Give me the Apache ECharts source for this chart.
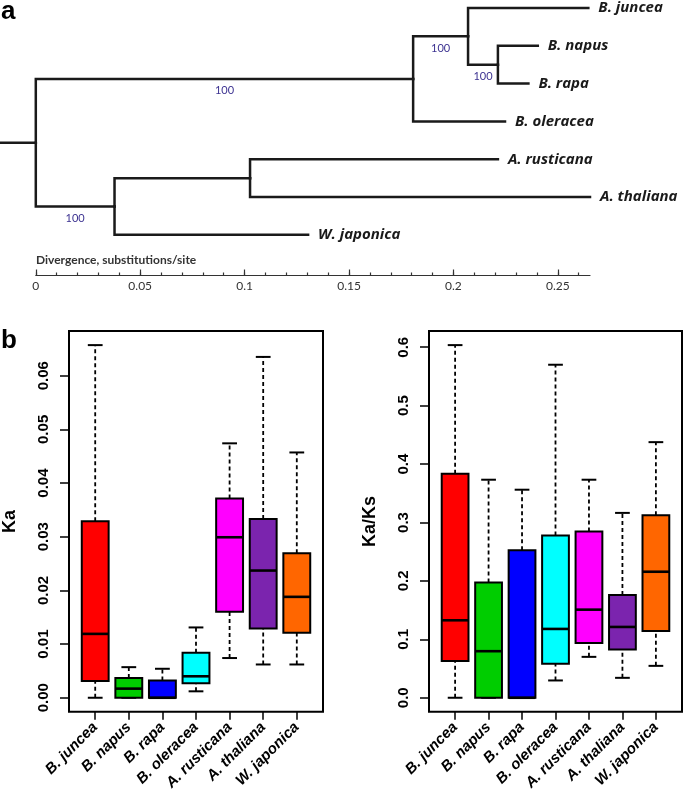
<!DOCTYPE html>
<html><head><meta charset="utf-8">
<script src="https://cdn.jsdelivr.net/npm/echarts@6/dist/echarts.min.js"></script>
<style>html,body{margin:0;padding:0;background:#fff}#c{width:685px;height:793px}</style>
</head><body><div id="c"></div>
<script>
// ---------- data ----------
const species = ['B. juncea','B. napus','B. rapa','B. oleracea','A. rusticana','A. thaliana','W. japonica'];
const boxColors = ['#ff0000','#00cd00','#0000ff','#00ffff','#ff00ff','#7b24ae','#ff6600'];

// phylogeny (divergence, substitutions/site)
const leafDivergence = [0.2646, 0.2404, 0.2359, 0.2247, 0.2213, 0.2654, 0.1304];
const cladeMembers = [[0,1,2,3,4,5,6],[0,1,2,3],[0,1,2],[1,2],[4,5,6],[4,5]];
const cladeDivergence = [0, 0.1807, 0.2070, 0.2213, 0.0377, 0.1026];
const cladeSupport = [null, 100, 100, 100, 100, null];
const rootStubStart = -0.0171;
const divergenceTicks = [0, 0.05, 0.1, 0.15, 0.2, 0.25];
const divergenceMinorTicks = [0,0.01,0.02,0.03,0.04,0.05,0.06,0.07,0.08,0.09,0.1,0.11,0.12,0.13,0.14,0.15,0.16,0.17,0.18,0.19,0.2,0.21,0.22,0.23,0.24,0.25,0.26];
const divergenceAxisEnd = 0.2654;

// Ka box statistics
const kaWhiskerLow  = [0.0000,0.0000,0.0000,0.0012,0.0074,0.0062,0.0062];
const kaQ1          = [0.0031,0.0000,0.0000,0.0027,0.0160,0.0129,0.0121];
const kaMedian      = [0.0119,0.0017,0.0000,0.0040,0.0299,0.0237,0.0188];
const kaQ3          = [0.0329,0.0037,0.0032,0.0084,0.0371,0.0333,0.0269];
const kaWhiskerHigh = [0.0657,0.0057,0.0054,0.0131,0.0474,0.0635,0.0457];
const kaTicks = [0, 0.01, 0.02, 0.03, 0.04, 0.05, 0.06];

// Ka/Ks box statistics
const kaksWhiskerLow  = [0.0000,0.0000,0.0000,0.0296,0.0700,0.0341,0.0546];
const kaksQ1          = [0.0631,0.0000,0.0000,0.0580,0.0939,0.0826,0.1143];
const kaksMedian      = [0.1326,0.0797,0.0000,0.1178,0.1508,0.1212,0.2157];
const kaksQ3          = [0.3834,0.1974,0.2526,0.2776,0.2845,0.1758,0.3123];
const kaksWhiskerHigh = [0.6036,0.3732,0.3561,0.5700,0.3732,0.3164,0.4375];
const kaksTicks = [0, 0.1, 0.2, 0.3, 0.4, 0.5, 0.6];

// ---------- tree layout (rectangular dendrogram) ----------
function smallestContaining(members, selfIdx) {
  let best = -1;
  cladeMembers.forEach((m, j) => {
    if (j === selfIdx || m.length <= members.length) return;
    if (members.every(x => m.includes(x))) {
      if (best < 0 || m.length < cladeMembers[best].length) best = j;
    }
  });
  return best;
}
const leafParent = species.map((_, i) => smallestContaining([i], -1));
const cladeParent = cladeMembers.map((m, i) => smallestContaining(m, i));
const cladeY = cladeMembers.map(() => null);
const order = cladeMembers.map((_, i) => i).sort((a, b) => cladeMembers[a].length - cladeMembers[b].length);
order.forEach(c => {
  const ys = [];
  leafParent.forEach((p, i) => { if (p === c) ys.push(i); });
  cladeParent.forEach((p, j) => { if (p === c) ys.push(cladeY[j]); });
  cladeY[c] = ys.reduce((a, b) => a + b, 0) / ys.length;
});
const rootIdx = cladeParent.indexOf(-1);
const treeEdges = [];
treeEdges.push([rootStubStart, cladeY[rootIdx], cladeDivergence[rootIdx], cladeY[rootIdx]]);
cladeMembers.forEach((m, c) => {
  const p = cladeParent[c];
  if (p >= 0) treeEdges.push([cladeDivergence[p], cladeY[p], cladeDivergence[c], cladeY[c]]);
});
leafDivergence.forEach((d, i) => {
  const p = leafParent[i];
  treeEdges.push([cladeDivergence[p], cladeY[p], d, i]);
});
const supportData = [];
cladeMembers.forEach((m, c) => {
  const p = cladeParent[c];
  if (p >= 0 && cladeSupport[c] != null)
    supportData.push([(cladeDivergence[p] + cladeDivergence[c]) / 2, cladeY[c], cladeSupport[c]]);
});
const leafData = leafDivergence.map((d, i) => [d, i, i]);

// ---------- box helpers ----------
const nCat = species.length;
const catMin = 0.5 - 0.04 * nCat, catMax = nCat + 0.5 + 0.04 * nCat;
const catTicks = species.map((_, i) => i + 1);
function boxData(lo, q1, md, q3, hi) { return species.map((_, i) => [i + 1, lo[i], q1[i], md[i], q3[i], hi[i], i]); }
function padRange(lo, hi) { const a = Math.min(...lo), b = Math.max(...hi), p = 0.04 * (b - a); return [a - p, b + p]; }
const kaRange = padRange(kaWhiskerLow, kaWhiskerHigh);
const kaksRange = padRange(kaksWhiskerLow, kaksWhiskerHigh);
const boxHalf = 0.4, capHalf = 0.22;

function renderBox(params, api) {
  const x = api.value(0), lo = api.value(1), q1 = api.value(2), md = api.value(3), q3 = api.value(4), hi = api.value(5);
  const color = boxColors[api.value(6)];
  const P = (dx, v) => api.coord([x + dx, v]);
  const seg = (a, b, style) => ({ type: 'line', shape: { x1: a[0], y1: a[1], x2: b[0], y2: b[1] }, style });
  const dash = { stroke: '#000', lineWidth: 1.8, lineDash: [4, 3] };
  const solid = { stroke: '#000', lineWidth: 2 };
  const tl = P(-boxHalf, q3), br = P(boxHalf, q1);
  const children = [];
  if (hi > q3) children.push(seg(P(0, q3), P(0, hi), dash));
  if (lo < q1) children.push(seg(P(0, lo), P(0, q1), dash));
  children.push(seg(P(-capHalf, hi), P(capHalf, hi), solid));
  children.push(seg(P(-capHalf, lo), P(capHalf, lo), solid));
  children.push({ type: 'rect', shape: { x: tl[0], y: tl[1], width: br[0] - tl[0], height: br[1] - tl[1] },
    style: { fill: color, stroke: '#000', lineWidth: 2 } });
  children.push(seg(P(-boxHalf, md), P(boxHalf, md), { stroke: '#000', lineWidth: 2.6 }));
  return { type: 'group', children };
}

const treeFont = 'Lato, "Open Sans", sans-serif';
const leafFont = '"Open Sans", Lato, sans-serif';
const rFont = '"Liberation Sans", Arial, sans-serif';

function boxAxes(gridIndex, range, ticks, digits, name) {
  return {
    x: {
      type: 'value', gridIndex, min: catMin, max: catMax,
      axisLine: { show: false, onZero: false }, splitLine: { show: false },
      axisTick: { show: true, customValues: catTicks, length: 8, lineStyle: { color: '#000', width: 1.5 } },
      axisLabel: { show: true, customValues: catTicks, rotate: 45, margin: 13,
        formatter: v => species[Math.round(v) - 1] || '',
        fontFamily: rFont, fontStyle: 'italic', fontWeight: 'bold', fontSize: 15, color: '#000' }
    },
    y: {
      type: 'value', gridIndex, min: range[0], max: range[1],
      axisLine: { show: false, onZero: false }, splitLine: { show: false },
      axisTick: { show: true, customValues: ticks, length: 9, lineStyle: { color: '#000', width: 1.5 } },
      axisLabel: { show: true, customValues: ticks, rotate: 90, margin: 18,
        formatter: v => Number(v).toFixed(digits),
        fontFamily: rFont, fontWeight: 'bold', fontSize: 15, color: '#000' },
      name, nameLocation: 'middle', nameGap: 50, nameRotate: 90,
      nameTextStyle: { fontFamily: rFont, fontWeight: 'bold', fontSize: 18, color: '#000' }
    }
  };
}
const kaAxes = boxAxes(1, kaRange, kaTicks, 2, 'Ka');
const kaksAxes = boxAxes(2, kaksRange, kaksTicks, 1, 'Ka/Ks');

const option = {
  animation: false,
  backgroundColor: '#fff',
  grid: [
    { left: 35.8, top: 8, width: 554.2, height: 267.5 },
    { left: 69, top: 331, width: 254, height: 381, show: true, borderColor: '#000', borderWidth: 2, backgroundColor: 'transparent' },
    { left: 429, top: 331, width: 253, height: 381, show: true, borderColor: '#000', borderWidth: 2, backgroundColor: 'transparent' }
  ],
  xAxis: [
    { type: 'value', gridIndex: 0, min: 0, max: divergenceAxisEnd, position: 'bottom',
      axisLine: { show: true, onZero: false, lineStyle: { color: '#333', width: 1.2 } }, splitLine: { show: false },
      axisTick: { show: true, inside: true, customValues: divergenceTicks, length: 6, lineStyle: { color: '#333', width: 1.2 } },
      axisLabel: { show: true, customValues: divergenceTicks, margin: 5, formatter: v => String(v),
        fontFamily: treeFont, fontSize: 12, color: '#333' } },
    { type: 'value', gridIndex: 0, min: 0, max: divergenceAxisEnd, position: 'bottom',
      axisLine: { show: false, onZero: false }, splitLine: { show: false },
      axisTick: { show: true, inside: true, customValues: divergenceMinorTicks, length: 3, lineStyle: { color: '#333', width: 1.2 } },
      axisLabel: { show: false } },
    kaAxes.x, kaksAxes.x
  ],
  yAxis: [
    { type: 'value', gridIndex: 0, min: 0, max: 7.075, inverse: true, show: false },
    kaAxes.y, kaksAxes.y
  ],
  graphic: [
    { type: 'text', x: 1, y: 12, style: { text: 'a', fontFamily: rFont, fontWeight: 'bold', fontSize: 26, fill: '#000', verticalAlign: 'middle' } },
    { type: 'text', x: 1, y: 341, style: { text: 'b', fontFamily: rFont, fontWeight: 'bold', fontSize: 26, fill: '#000', verticalAlign: 'middle' } },
    { type: 'text', x: 36, y: 260, style: { text: 'Divergence, substitutions/site', fontFamily: treeFont, fontWeight: 'bold', fontSize: 12, fill: '#333', verticalAlign: 'middle' } }
  ],
  series: [
    { type: 'custom', xAxisIndex: 0, yAxisIndex: 0, clip: false, data: treeEdges,
      renderItem: (params, api) => {
        const a = api.coord([api.value(0), api.value(1)]);
        const b = api.coord([api.value(0), api.value(3)]);
        const c = api.coord([api.value(2), api.value(3)]);
        return { type: 'polyline', shape: { points: [a, b, c] },
          style: { stroke: '#1a1a1a', lineWidth: 2.5, fill: null, lineJoin: 'miter', lineCap: 'square' } };
      } },
    { type: 'custom', xAxisIndex: 0, yAxisIndex: 0, clip: false, data: supportData,
      renderItem: (params, api) => {
        const p = api.coord([api.value(0), api.value(1)]);
        return { type: 'text', x: p[0], y: p[1] + 12,
          style: { text: String(api.value(2)), align: 'center', verticalAlign: 'middle', fill: '#3d3391', fontFamily: treeFont, fontSize: 11 } };
      } },
    { type: 'custom', xAxisIndex: 0, yAxisIndex: 0, clip: false, data: leafData,
      renderItem: (params, api) => {
        const p = api.coord([api.value(0), api.value(1)]);
        return { type: 'text', x: p[0] + 10, y: p[1],
          style: { text: species[api.value(2)], align: 'left', verticalAlign: 'middle', fill: '#1a1a1a',
            fontFamily: leafFont, fontStyle: 'italic', fontWeight: 'bold', fontSize: 15 } };
      } },
    { type: 'custom', xAxisIndex: 2, yAxisIndex: 1, clip: false,
      data: boxData(kaWhiskerLow, kaQ1, kaMedian, kaQ3, kaWhiskerHigh), renderItem: renderBox },
    { type: 'custom', xAxisIndex: 3, yAxisIndex: 2, clip: false,
      data: boxData(kaksWhiskerLow, kaksQ1, kaksMedian, kaksQ3, kaksWhiskerHigh), renderItem: renderBox }
  ]
};
const chart = echarts.init(document.getElementById('c'));
chart.setOption(option);
</script>
</body></html>
